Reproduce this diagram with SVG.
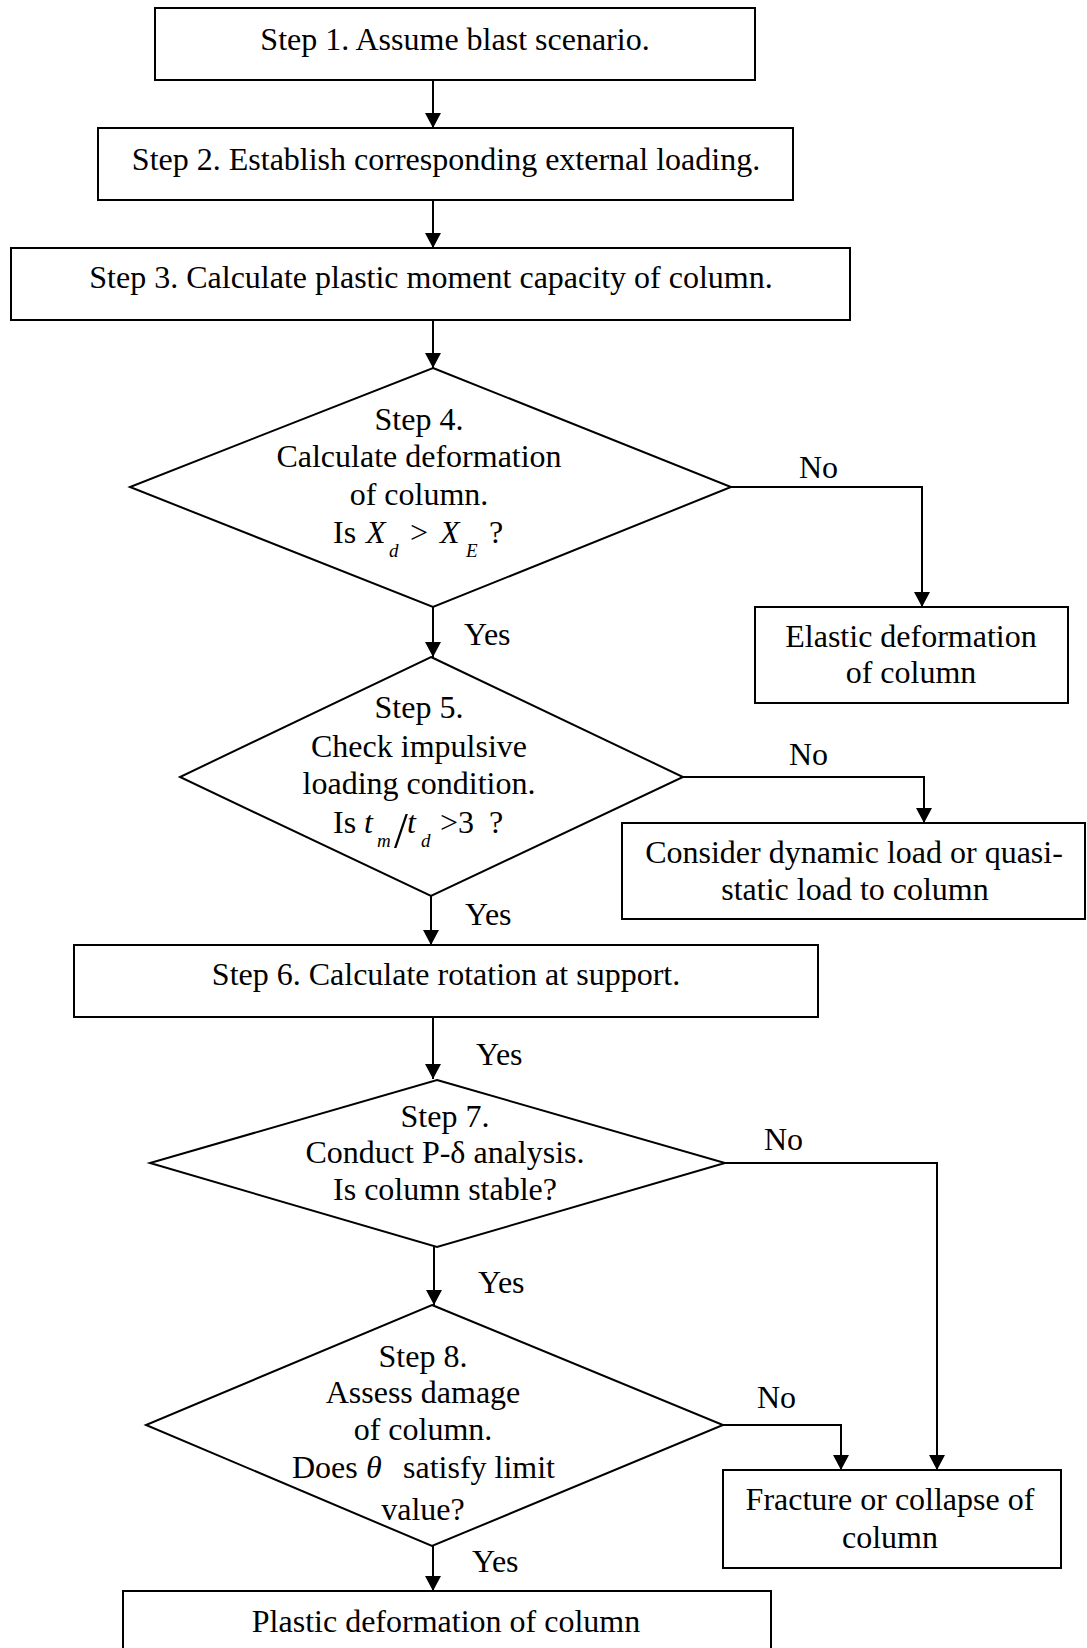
<svg xmlns="http://www.w3.org/2000/svg" width="1087" height="1648" viewBox="0 0 1087 1648">
<style>
  .box{fill:#fff;stroke:#000;stroke-width:2}
  .t{font-family:"Liberation Serif","Times New Roman",serif;font-size:32px;fill:#000}
  .c{text-anchor:middle}
  .i{font-style:italic}
  .sub{font-family:"Liberation Serif","Times New Roman",serif;font-style:italic;font-size:19px;fill:#000}
  .ln{fill:none;stroke:#000;stroke-width:2}
</style>
<defs>
  <marker id="ah" viewBox="0 0 15 16" refX="15" refY="8" markerWidth="15" markerHeight="16" markerUnits="userSpaceOnUse" orient="auto">
    <path d="M0,0 L15,8 L0,16 z" fill="#000"/>
  </marker>
</defs>
<rect width="1087" height="1648" fill="#fff"/>

<g id="connectors">
  <path class="ln" d="M433,80 V128" marker-end="url(#ah)"/>
  <path class="ln" d="M433,200 V248" marker-end="url(#ah)"/>
  <path class="ln" d="M433,320 V368" marker-end="url(#ah)"/>
  <path class="ln" d="M433,607 V657" marker-end="url(#ah)"/>
  <path class="ln" d="M431,896 V945" marker-end="url(#ah)"/>
  <path class="ln" d="M433,1017 V1079" marker-end="url(#ah)"/>
  <path class="ln" d="M434,1247 V1305" marker-end="url(#ah)"/>
  <path class="ln" d="M433,1546 V1591" marker-end="url(#ah)"/>
  <path class="ln" d="M731,487 H922 V607" marker-end="url(#ah)"/>
  <path class="ln" d="M683,777 H924 V823" marker-end="url(#ah)"/>
  <path class="ln" d="M725,1163 H937 V1470" marker-end="url(#ah)"/>
  <path class="ln" d="M723,1425 H841 V1470" marker-end="url(#ah)"/>
  <text class="t" x="799" y="478">No</text>
  <text class="t" x="464" y="645">Yes</text>
  <text class="t" x="789" y="765">No</text>
  <text class="t" x="465" y="925">Yes</text>
  <text class="t" x="476" y="1065">Yes</text>
  <text class="t" x="764" y="1150">No</text>
  <text class="t" x="478" y="1293">Yes</text>
  <text class="t" x="757" y="1408">No</text>
  <text class="t" x="472" y="1572">Yes</text>
</g>

<g id="step1">
  <rect class="box" x="155" y="8" width="600" height="72"/>
  <text class="t c" x="455" y="50">Step 1. Assume blast scenario.</text>
</g>
<g id="step2">
  <rect class="box" x="98" y="128" width="695" height="72"/>
  <text class="t c" x="446" y="170">Step 2. Establish corresponding external loading.</text>
</g>
<g id="step3">
  <rect class="box" x="11" y="248" width="839" height="72"/>
  <text class="t c" x="431" y="288">Step 3. Calculate plastic moment capacity of column.</text>
</g>
<g id="step4">
  <polygon class="box" points="433,368 731,487 433,607 130,487"/>
  <text class="t c" x="419" y="430">Step 4.</text>
  <text class="t c" x="419" y="467">Calculate deformation</text>
  <text class="t c" x="419" y="505">of column.</text>
  <text class="t" x="333" y="543">Is</text>
  <text class="t i" x="366" y="543">X</text>
  <text class="sub" x="389" y="557">d</text>
  <text class="t" x="410" y="543">&gt;</text>
  <text class="t i" x="440" y="543">X</text>
  <text class="sub" x="466" y="557">E</text>
  <text class="t" x="489" y="543">?</text>
</g>
<g id="elastic">
  <rect class="box" x="755" y="607" width="313" height="96"/>
  <text class="t c" x="911" y="647">Elastic deformation</text>
  <text class="t c" x="911" y="683">of column</text>
</g>
<g id="step5">
  <polygon class="box" points="431,657 683,777 431,896 180,777"/>
  <text class="t c" x="419" y="718">Step 5.</text>
  <text class="t c" x="419" y="757">Check impulsive</text>
  <text class="t c" x="419" y="794">loading condition.</text>
  <text class="t" x="333" y="833">Is</text>
  <text class="t i" x="364" y="833">t</text>
  <text class="sub" x="377" y="847">m</text>
  <text class="t" x="394" y="847" style="font-size:50px">/</text>
  <text class="t i" x="407" y="833">t</text>
  <text class="sub" x="421" y="847">d</text>
  <text class="t" x="440" y="833">&gt;3</text>
  <text class="t" x="489" y="833">?</text>
</g>
<g id="dynamic">
  <rect class="box" x="622" y="823" width="463" height="96"/>
  <text class="t c" x="854" y="863">Consider dynamic load or quasi-</text>
  <text class="t c" x="855" y="900">static load to column</text>
</g>
<g id="step6">
  <rect class="box" x="74" y="945" width="744" height="72"/>
  <text class="t c" x="446" y="985">Step 6. Calculate rotation at support.</text>
</g>
<g id="step7">
  <polygon class="box" points="437,1080 725,1163 437,1247 150,1163"/>
  <text class="t c" x="445" y="1127">Step 7.</text>
  <text class="t c" x="445" y="1163">Conduct P-δ analysis.</text>
  <text class="t c" x="445" y="1200">Is column stable?</text>
</g>
<g id="step8">
  <polygon class="box" points="432,1305 723,1425 432,1546 146,1425"/>
  <text class="t c" x="423" y="1367">Step 8.</text>
  <text class="t c" x="423" y="1403">Assess damage</text>
  <text class="t c" x="423" y="1440">of column.</text>
  <text class="t" x="292" y="1478">Does</text>
  <text class="t i" x="366" y="1478">θ</text>
  <text class="t" x="403" y="1478">satisfy limit</text>
  <text class="t c" x="423" y="1520">value?</text>
</g>
<g id="fracture">
  <rect class="box" x="723" y="1470" width="338" height="98"/>
  <text class="t c" x="890" y="1510">Fracture or collapse of</text>
  <text class="t c" x="890" y="1548">column</text>
</g>
<g id="plastic">
  <rect class="box" x="123" y="1591" width="648" height="70"/>
  <text class="t c" x="446" y="1632">Plastic deformation of column</text>
</g>
</svg>
